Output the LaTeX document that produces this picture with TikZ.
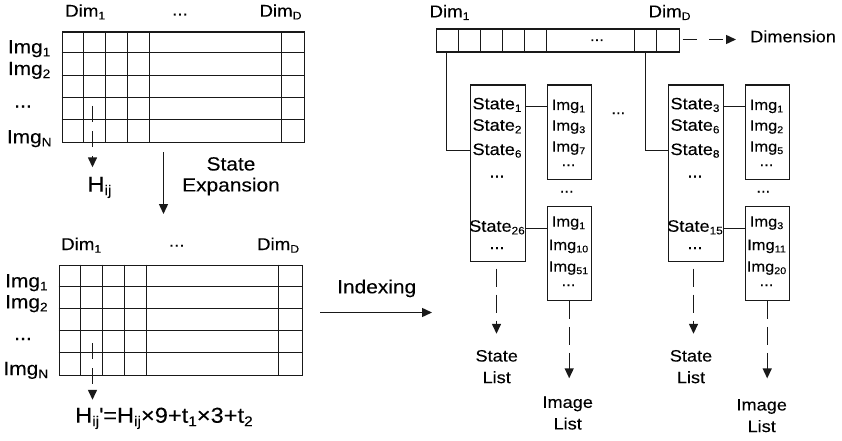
\documentclass[tikz,border=0pt]{standalone}
\usepackage{fontspec}
\usepackage{graphicx}
\setmainfont{Liberation Sans}[FakeStretch=1.1, FakeBold=0.12]
\usetikzlibrary{arrows.meta}
\newcommand{\sbs}[1]{\raisebox{-0.3ex}{\scalebox{0.65}{#1}}}
\begin{document}
\begin{tikzpicture}[x=1pt,y=-1pt,
  ln/.style={line width=1.4pt, draw=black!90},
  tip/.style={-{Triangle[length=10pt,width=9pt]}},
  dsh/.style={dash pattern=on 18pt off 8pt},
  frame/.style={draw=black!90, line width=1.4pt, inner sep=0pt, anchor=north west},
  fA/.style={inner sep=0pt, font=\fontsize{21.5}{24}\selectfont},
  fB/.style={inner sep=0pt, font=\fontsize{19}{21}\selectfont},
  fC/.style={inner sep=0pt, font=\fontsize{19}{21}\selectfont},
  fD/.style={inner sep=0pt, font=\fontsize{17}{21}\selectfont},
  fE/.style={inner sep=0pt, font=\fontsize{16.5}{21.6}\selectfont},
  fF/.style={inner sep=0pt, font=\fontsize{15}{20}\selectfont}]
\useasboundingbox (0,0) rectangle (842,441);

% ---------- top-left matrix ----------
\node[frame, minimum width=242pt, minimum height=110pt] (g1) at (61.5,31.5) {};
\foreach \x in {83.5,105.5,127.5,149.5,281.5} \draw[ln] (\x,31.5) -- (\x,141.5);
\foreach \y in {52.5,75.5,97.5,119.5} \draw[ln] (61.5,\y) -- (303.5,\y);
\node[fD, anchor=base west] (g1d1) at (65,16.7) {Dim\sbs{1}};
\node[fD, anchor=base] (g1dd) at (180,15.5) {...};
\node[fD, anchor=base east] (g1dD) at (301.7,16.7) {Dim\sbs{D}};
\node[fC, anchor=base west] (g1i1) at (7.7,53.3) {Img\sbs{1}};
\node[fC, anchor=base west] (g1i2) at (7.7,75) {Img\sbs{2}};
\node[fC, anchor=base] (g1id) at (23,107.5) {...};
\node[fC, anchor=base west] (g1iN) at (6.7,143.3) {Img\sbs{N}};
\coordinate (h1s) at (92.5,106);
\node[fA, anchor=base west] (hij) at (87.3,191.7) {H\sbs{ij}};
\draw[ln, dash pattern=on 16pt off 9pt, tip, shorten >=9.4pt] (h1s) -- (h1s |- hij.north);

% ---------- state expansion ----------
\coordinate (e1) at (163.5,152);
\coordinate (e2) at (163.5,214);
\draw[ln, tip] (e1) -- (e2);
\node[fB, anchor=north, align=center] (sexp) at (231,157) {State\\Expansion};

% ---------- bottom-left matrix ----------
\node[frame, minimum width=243pt, minimum height=110pt] (g2) at (58.5,264.5) {};
\foreach \x in {80.5,102.5,124.5,146.5,278.5} \draw[ln] (\x,264.5) -- (\x,374.5);
\foreach \y in {286.5,308.5,330.5,352.5} \draw[ln] (58.5,\y) -- (301.5,\y);
\node[fD, anchor=base west] (g2d1) at (61,250) {Dim\sbs{1}};
\node[fD, anchor=base] (g2dd) at (176.7,246.7) {...};
\node[fD, anchor=base east] (g2dD) at (299.3,250) {Dim\sbs{D}};
\node[fC, anchor=base west] (g2i1) at (5,287.3) {Img\sbs{1}};
\node[fC, anchor=base west] (g2i2) at (5,308.3) {Img\sbs{2}};
\node[fC, anchor=base] (g2id) at (23,340) {...};
\node[fC, anchor=base west] (g2iN) at (3.3,375) {Img\sbs{N}};
\coordinate (h2s) at (92.5,343);
\node[fA, anchor=base west] (form) at (75,422.7) {H\sbs{ij}\textquotesingle=H\sbs{ij}×9+t\sbs{1}×3+t\sbs{2}};
\draw[ln, dash pattern=on 16pt off 9pt, tip, shorten >=7.7pt] (h2s) -- (h2s |- form.north);

% ---------- indexing ----------
\coordinate (x1) at (320,312.5);
\coordinate (x2) at (432,312.5);
\draw[ln, tip] (x1) -- (x2);
\node[fB, anchor=base] (idx) at (376.7,293.3) {Indexing};

% ---------- dimension bar ----------
\node[frame, minimum width=243pt, minimum height=23pt] (bar) at (435.5,28.5) {};
\foreach \x in {458.5,480.5,502.5,524.5,546.5,634.5,656.5} \draw[ln] (\x,28.5) -- (\x,51.5);
\node[fF, anchor=base] (bard) at (597,41) {...};
\node[fD, anchor=base west] (bd1) at (429.3,17.3) {Dim\sbs{1}};
\node[fD, anchor=base west] (bdD) at (648.3,17.3) {Dim\sbs{D}};
\node[fE, anchor=base west] (dimension) at (750,42.3) {Dimension};
\coordinate (d1) at (682.5,39.5);
\draw[ln, dash pattern=on 14pt off 12.7pt, tip, shorten >=14pt] (d1) -- (d1 -| dimension.west);

% ---------- group 1 ----------
\node[frame, minimum width=55pt, minimum height=176pt] (s1) at (469.5,84.5) {};
\node[frame, minimum width=44pt, minimum height=94pt] (i1) at (546.5,84.5) {};
\node[frame, minimum width=44pt, minimum height=94pt] (i2) at (546.5,205.5) {};
\coordinate (b1) at (446.5,51.5);
\coordinate (k1) at (469.5,150.5);
\draw[ln] (b1) |- (k1);
\draw[ln] ([yshift=-22pt]s1.north east) -- ([yshift=-22pt]i1.north west);
\coordinate (i2k) at ([yshift=-23pt]i2.north west);
\draw[ln] (s1.east |- i2k) -- (i2k);
\node[fE, anchor=base] (s1a) at (497,109.3) {State\sbs{1}};
\node[fE, anchor=base] (s1b) at (497,130.7) {State\sbs{2}};
\node[fE, anchor=base] (s1c) at (497,155) {State\sbs{6}};
\node[fE, anchor=base] (s1d) at (497,177.5) {...};
\node[fE, anchor=base] (s1e) at (497,231.7) {State\sbs{26}};
\node[fE, anchor=base] (s1f) at (497,249) {...};
\node[fF, anchor=base] (i1a) at (568.5,110) {Img\sbs{1}};
\node[fF, anchor=base] (i1b) at (568.5,130.7) {Img\sbs{3}};
\node[fF, anchor=base] (i1c) at (568.5,151.7) {Img\sbs{7}};
\node[fF, anchor=base] (i1d) at (568.5,166) {...};
\node[fF, anchor=base] (mid1) at (566.7,192.5) {...};
\node[fF, anchor=base] (i2a) at (568.5,226.7) {Img\sbs{1}};
\node[fF, anchor=base] (i2b) at (568.5,250) {Img\sbs{10}};
\node[fF, anchor=base] (i2c) at (568.5,271.7) {Img\sbs{51}};
\node[fF, anchor=base] (i2d) at (568.5,286) {...};
\node[fE, anchor=north, align=center] (sl1) at (496.7,349.8) {State\\List};
\node[fE, anchor=north, align=center] (il1) at (567.7,396.3) {Image\\List};
\coordinate (sa1) at (496.5,268.5);
\draw[ln, dsh, tip, shorten >=16pt] (sa1) -- (sa1 |- sl1.north);
\draw[ln, dsh, tip, shorten >=18pt] (i2.south) -- (i2.south |- il1.north);

\node[fF, anchor=base] (gdots) at (618.3,114) {...};

% ---------- group 2 ----------
\node[frame, minimum width=55pt, minimum height=176pt] (s2) at (667.5,84.5) {};
\node[frame, minimum width=44pt, minimum height=94pt] (i3) at (744.5,84.5) {};
\node[frame, minimum width=44pt, minimum height=94pt] (i4) at (744.5,205.5) {};
\coordinate (b2) at (645.5,51.5);
\coordinate (k2) at (667.5,150.5);
\draw[ln] (b2) |- (k2);
\draw[ln] ([yshift=-22pt]s2.north east) -- ([yshift=-22pt]i3.north west);
\coordinate (i4k) at ([yshift=-23pt]i4.north west);
\draw[ln] (s2.east |- i4k) -- (i4k);
\node[fE, anchor=base] (s2a) at (695,109.3) {State\sbs{3}};
\node[fE, anchor=base] (s2b) at (695,130.7) {State\sbs{6}};
\node[fE, anchor=base] (s2c) at (695,155) {State\sbs{8}};
\node[fE, anchor=base] (s2d) at (695,177.5) {...};
\node[fE, anchor=base] (s2e) at (695,231.7) {State\sbs{15}};
\node[fE, anchor=base] (s2f) at (695,249) {...};
\node[fF, anchor=base] (i3a) at (766.5,110) {Img\sbs{1}};
\node[fF, anchor=base] (i3b) at (766.5,130.7) {Img\sbs{2}};
\node[fF, anchor=base] (i3c) at (766.5,151.7) {Img\sbs{5}};
\node[fF, anchor=base] (i3d) at (766.5,166) {...};
\node[fF, anchor=base] (mid2) at (763.3,192.5) {...};
\node[fF, anchor=base] (i4a) at (766.5,226.7) {Img\sbs{3}};
\node[fF, anchor=base] (i4b) at (766.5,250) {Img\sbs{11}};
\node[fF, anchor=base] (i4c) at (766.5,271.7) {Img\sbs{20}};
\node[fF, anchor=base] (i4d) at (766.5,286) {...};
\node[fE, anchor=north, align=center] (sl2) at (691,349.8) {State\\List};
\node[fE, anchor=north, align=center] (il2) at (761.7,398.9) {Image\\List};
\coordinate (sa2) at (693.5,268.5);
\draw[ln, dsh, tip, shorten >=16pt] (sa2) -- (sa2 |- sl2.north);
\draw[ln, dsh, tip, shorten >=20.5pt] (i4.south) -- (i4.south |- il2.north);
\end{tikzpicture}
\end{document}
